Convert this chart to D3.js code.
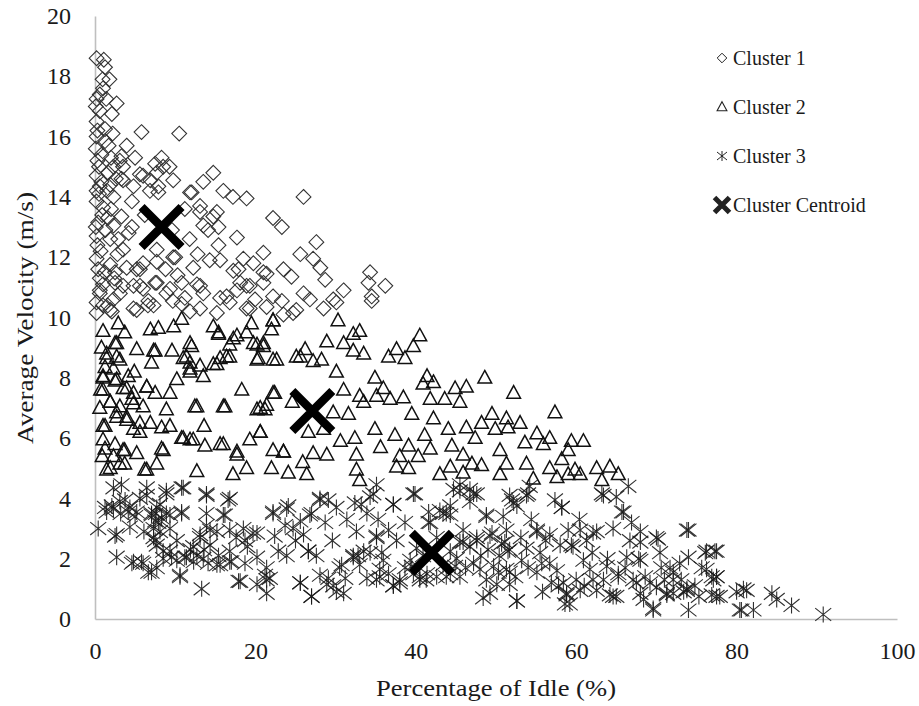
<!DOCTYPE html>
<html>
<head>
<meta charset="utf-8">
<script src="https://cdn.jsdelivr.net/npm/d3@7"></script>
<style>
  html, body { margin: 0; padding: 0; background: #fff; }
  text { font-family: "Liberation Serif", "Times New Roman", serif; fill: #1a1a1a; }
</style>
</head>
<body>
<div id="chart"></div>
<script>
// --- data: [percentage idle, average velocity] ---
var cluster1 = [
  [0.2,18.6],[1.1,18.55],[1.25,18.3],[0.95,17.9],[1.0,17.6],[0.2,17.25],[1.4,17.25],[2.7,17.1],
  [0.6,16.85],[2.1,16.75],[0.2,16.5],[1.25,16.25],[5.8,16.15],[10.5,16.1],[0.2,16.0],[1.25,15.85],
  [3.95,15.7],[0.8,15.4],[5.0,15.3],[8.3,15.3],[9.3,15.0],[7.5,15.1],[3.5,15.0],[1.65,14.8],
  [5.6,14.75],[0.2,14.7],[14.75,14.8],[13.5,14.5],[3.5,14.55],[6.9,14.55],[0.6,14.35],[11.85,14.15],
  [16.0,14.2],[17.2,14.0],[18.9,13.95],[26.0,14.0],[7.9,14.15],[2.3,14.0],[4.6,13.85],[0.2,13.85],
  [1.0,13.65],[11.2,13.6],[13.1,13.5],[15.2,13.5],[3.3,13.35],[22.2,13.3],[23.3,13.0],[13.5,13.05],
  [15.4,13.0],[0.4,13.15],[2.3,13.05],[4.6,13.0],[0.2,12.7],[1.9,12.6],[17.7,12.65],[15.4,12.4],
  [27.6,12.5],[25.6,12.1],[21.0,12.15],[3.5,12.25],[7.7,12.25],[10.0,12.0],[0.2,11.95],[1.9,11.75],
  [3.95,11.65],[6.0,11.8],[12.25,11.65],[15.6,11.9],[18.5,11.95],[17.9,11.6],[27.2,11.95],[28.1,11.65],
  [21.0,11.5],[23.5,11.6],[24.5,11.35],[28.7,11.25],[34.3,11.5],[34.1,11.15],[36.2,11.05],[34.5,10.7],
  [31.0,10.9],[29.7,10.6],[26.0,10.8],[26.8,10.6],[23.3,10.55],[19.3,11.05],[18.1,11.15],[16.4,10.7],
  [13.1,11.05],[9.35,10.95],[11.2,10.65],[7.5,11.15],[5.6,11.05],[3.5,11.05],[0.6,10.8],[2.3,10.6],
  [6.65,10.55],[19.95,10.6],[1.9,10.25],[5.2,10.25],[6.6,10.4],[9.7,10.55],[11.85,10.2],[15.2,10.15],
  [16.8,10.5],[19.3,10.3],[21.4,10.35],[25.1,10.25],[28.5,10.3],[30.1,10.5],[34.5,10.55],[0.2,10.15],
  [0.3,15.2],[0.5,14.1],[0.3,12.4],[0.6,11.3],[2.0,15.3],[1.6,13.3],[2.8,12.1],[1.2,11.5],[4.2,12.8],
  [6.2,13.4],[9.6,12.9],[11.8,12.6],[5.2,11.6],[8.8,11.6],[12.8,12.1],[14.3,11.9],[10.3,11.4],
  [0.1,17.0],[0.3,16.2],[0.1,15.6],[0.5,15.0],[0.8,14.5],[0.2,14.2],[1.5,14.2],[0.9,13.4],
  [0.1,13.0],[1.3,12.9],[0.7,12.2],[0.4,11.6],[1.0,11.1],[0.2,10.5],[1.6,10.4],[2.4,11.3],
  [2.9,12.6],[2.0,13.6],[2.6,14.6],[3.1,15.2],[1.7,15.7],[2.2,16.1],[0.6,17.4],[1.8,17.9],
  [3.3,15.35],[2.3,15.0],[1.9,14.4],[3.3,14.6],[4.8,14.35],[6.85,14.2],[6.0,14.7],[7.9,14.35],
  [8.5,15.0],[7.7,14.8],[9.75,14.55],[12.05,14.15],[13.1,13.7],[14.75,13.35],[14.1,12.9],
  [2.5,11.5],[5.6,11.6],[7.7,11.85],[9.75,12.0],[17.25,11.55],[19.75,11.8],[21.4,11.45],
  [0.6,10.9],[2.5,11.15],[3.1,10.8],[4.8,11.05],[6.0,10.95],[7.7,11.15],[8.9,10.8],[10.8,11.15],
  [12.7,11.1],[13.5,10.8],[15.6,10.65],[17.7,10.9],[18.9,11.05],[21.0,11.15],[22.2,10.7],
  [24.7,10.15],[1.0,10.4],[2.1,10.2],[4.8,10.3],[7.3,10.4],[10.8,10.45],[13.1,10.3],[18.9,10.3],
  [23.5,10.1]
];

var cluster2 = [
  [1.0,9.55],[2.9,9.8],[3.7,9.5],[6.9,9.6],[7.9,9.65],[9.8,9.7],[10.8,9.95],[14.75,9.7],
  [15.4,9.5],[17.7,9.4],[19.5,9.8],[22.2,9.9],[22.0,9.6],[30.3,9.9],[33.0,9.55],[32.2,9.45],
  [2.7,9.15],[5.2,8.95],[7.5,8.9],[11.85,9.15],[16.8,9.1],[20.2,9.1],[21.0,9.15],[26.2,8.95],
  [28.9,9.2],[31.0,9.15],[32.2,8.9],[33.5,8.8],[36.6,8.7],[37.6,8.95],[1.45,8.8],[3.1,8.6],
  [7.05,8.5],[11.0,8.65],[11.85,8.5],[15.6,8.65],[16.4,8.7],[20.2,8.6],[22.65,8.6],[25.6,8.7],
  [27.2,8.55],[28.25,8.6],[1.25,8.35],[2.3,8.3],[4.15,8.05],[11.85,8.2],[13.1,8.4],[13.5,8.05],
  [15.2,8.45],[30.1,8.2],[1.0,8.0],[2.5,7.9],[10.2,7.95],[34.9,8.0],[1.0,7.6],[3.95,7.65],
  [6.45,7.7],[7.5,7.5],[9.35,7.5],[22.4,7.5],[31.0,7.6],[33.0,7.4],[35.95,7.65],[35.1,7.4],
  [1.9,7.2],[4.6,7.3],[6.0,7.05],[8.9,6.95],[12.45,7.05],[16.2,7.05],[20.2,6.95],[21.2,6.95],
  [29.7,6.85],[33.5,7.2],[36.8,7.3],[2.7,6.85],[3.95,6.7],[6.9,6.5],[1.0,6.4],[8.3,6.35],
  [9.35,6.4],[20.6,6.2],[26.6,6.2],[28.5,6.3],[31.6,6.8],[32.4,6.0],[34.9,6.3],[37.4,6.1],
  [1.0,5.95],[3.5,5.6],[5.2,5.5],[8.3,5.65],[11.0,6.0],[11.85,5.95],[13.7,5.75],[16.0,5.8],
  [17.7,5.45],[19.3,5.95],[22.2,5.6],[23.5,5.55],[27.2,5.5],[28.9,5.45],[32.6,5.45],[2.3,5.4],
  [1.45,4.95],[3.1,5.15],[6.2,4.95],[7.7,5.15],[12.7,4.9],[17.2,4.8],[18.9,5.0],[22.0,5.0],
  [24.1,4.85],[26.4,4.8],[32.6,4.95],[33.0,4.6],[37.6,5.05],
  [40.5,9.4],[39.7,9.05],[38.65,8.65],[41.4,8.05],[42.2,7.85],[40.9,7.8],[44.9,7.65],[46.3,7.7],
  [48.6,8.0],[45.5,7.2],[41.8,7.3],[52.2,7.5],[38.45,7.35],[39.5,6.8],[42.2,6.65],[57.35,6.85],
  [49.5,6.8],[51.3,6.65],[48.2,6.5],[44.05,6.3],[46.3,6.35],[49.9,6.3],[51.5,6.35],[41.1,6.1],
  [55.1,6.15],[56.7,6.0],[53.6,5.85],[55.9,5.8],[59.4,5.9],[60.9,5.9],[39.1,5.75],[41.8,5.65],
  [44.5,5.75],[50.5,5.6],[59.0,5.6],[38.0,5.4],[40.3,5.4],[45.9,5.45],[47.0,5.15],[48.2,5.1],
  [51.3,5.15],[53.8,5.15],[56.7,5.0],[59.85,4.95],[62.55,5.0],[64.2,5.05],[65.25,4.8],[39.1,5.0],
  [43.0,4.8],[44.3,5.05],[45.9,4.85],[50.5,4.8],[54.65,4.65],[57.6,4.7],[59.0,4.8],[60.5,4.8],
  [63.2,4.6],[0.8,9.0],[0.6,7.0],[0.9,5.4],[4.9,8.2],[5.6,6.2],[9.6,8.9],[13.6,6.4],[18.3,7.6],
  [24.6,7.2],[25.9,5.2],[30.6,5.9],[35.6,5.7],[43.6,7.3],[47.4,6.0],[53.0,6.5],[58.2,5.3],
  [2.5,9.15],[7.3,8.9],[1.45,8.65],[2.7,8.7],[1.0,8.05],[2.7,7.95],[0.7,7.6],[3.5,7.65],
  [4.8,7.5],[6.45,7.7],[1.9,7.2],[3.1,7.05],[4.8,7.15],[2.7,6.7],[3.95,6.6],[5.6,6.5],
  [4.8,6.3],[1.25,6.4],[1.25,5.65],[2.5,5.8],[3.7,5.6],[8.5,5.6],[1.9,5.0],[3.7,5.15],
  [6.45,4.95],[23.5,5.55],[10.8,6.0],[12.25,5.95],[15.6,5.8],[17.7,5.55],[20.6,6.2],
  [12.7,7.05],[16.0,7.05],[20.6,7.0],[21.4,7.1],[22.2,7.5],[12.05,9.05],[11.4,8.7],[11.85,8.3],
  [14.75,8.45],[15.4,9.45],[17.25,9.3],[18.9,9.5],[19.75,9.15],[21.0,9.05],[22.2,8.6],
  [20.35,8.65],[16.8,8.7],[22.2,9.9],[25.1,8.7]
];

var cluster3 = [
  [0.4,3.0],[2.3,4.35],[1.25,3.7],[2.1,3.75],[3.75,3.95],[4.35,3.7],[2.7,2.8],[2.7,2.05],
  [4.6,1.85],[5.8,1.9],[6.65,1.55],[7.7,1.7],[6.45,4.35],[5.6,4.0],[7.05,3.45],[7.7,3.7],
  [8.3,3.35],[7.3,3.0],[7.5,2.6],[8.9,4.25],[11.0,4.35],[10.8,3.55],[9.35,3.45],[9.35,3.0],
  [8.5,2.25],[9.55,2.05],[10.6,1.45],[11.4,2.05],[12.7,2.1],[13.9,4.1],[16.8,4.0],[16.0,3.45],
  [13.9,3.1],[15.2,2.9],[13.1,2.8],[14.35,2.45],[14.1,1.85],[15.6,1.8],[16.8,1.9],[13.3,1.0],
  [18.5,3.0],[19.7,2.85],[16.8,2.25],[18.7,1.85],[18.1,1.25],[20.2,2.05],[21.4,1.7],[21.2,1.45],
  [21.8,1.35],[21.4,0.85],[20.2,1.15],[22.4,2.75],[22.2,3.55],[24.1,3.75],[23.7,3.1],[24.7,3.0],
  [22.85,2.25],[23.9,2.1],[26.6,2.25],[26.0,2.8],[26.8,3.45],[28.05,4.0],[29.1,3.95],[30.1,3.7],
  [28.7,3.2],[25.6,1.2],[27.0,0.75],[28.05,1.45],[28.9,1.15],[30.1,0.9],[30.75,1.8],[31.4,3.3],
  [32.4,3.85],[32.6,2.9],[32.2,2.1],[33.5,2.25],[33.9,1.35],[31.2,1.35],[33.0,1.8],
  [7.9,3.2],[8.1,2.9],[7.6,3.5],[11.9,2.3],[12.3,1.9],[13.6,2.3],[15.4,2.1],[10.2,2.6],
  [3.2,3.5],[5.0,3.4],[6.1,2.9],[17.6,2.7],[19.0,2.4],[25.0,2.6],[27.6,2.1],[29.6,2.6],
  [35.1,4.45],[34.3,4.05],[37.2,3.8],[39.9,4.15],[35.3,3.3],[35.1,2.75],[36.6,2.95],[38.65,3.2],
  [41.6,3.55],[43.0,3.6],[44.3,3.45],[41.6,3.2],[35.75,2.2],[35.5,1.65],[36.6,1.5],[35.1,1.3],
  [38.0,1.3],[38.65,1.7],[39.5,1.75],[40.5,1.4],[44.3,1.5],[45.5,1.4],[44.7,4.3],[45.5,4.45],
  [46.75,4.3],[47.6,4.15],[46.75,3.9],[48.8,3.4],[45.9,2.95],[45.5,2.55],[46.75,2.4],[47.6,2.6],
  [49.5,2.85],[49.0,2.3],[47.2,1.85],[49.7,1.75],[51.3,1.65],[48.8,1.3],[50.1,1.15],[48.4,0.7],
  [52.6,0.6],[51.7,1.15],[51.1,2.55],[51.7,2.3],[51.3,2.95],[52.2,3.85],[51.7,4.1],[53.8,4.1],
  [54.2,4.4],[55.1,2.95],[53.8,2.35],[53.2,1.95],[55.5,2.2],[55.1,1.55],[56.7,1.85],[57.35,3.95],
  [58.2,3.7],[59.0,2.95],[59.6,2.4],[58.0,2.45],[56.9,1.2],[58.4,1.2],[58.8,0.8],[59.2,0.5],
  [60.0,1.3],[60.9,1.95],[61.3,2.6],[62.55,2.9],[63.4,4.1],[65.0,4.05],[66.5,4.4],[65.9,3.55],
  [66.7,2.6],[66.3,2.05],[65.25,1.5],[63.4,1.3],[62.55,0.95],[65.0,0.75],[67.1,1.3],[61.7,1.65],
  [40.1,2.35],[39.3,1.95],[40.9,2.1],[34.3,2.2],
  [37.6,2.6],[42.6,2.7],[43.4,1.8],[46.2,1.7],[50.4,2.1],[52.4,1.4],[54.4,3.3],[56.2,2.6],
  [57.6,1.6],[60.4,3.3],[62.0,2.2],[63.9,2.0],[64.6,3.0],[61.0,1.1],[64.2,0.8],[67.8,2.0],
  [37.2,1.1],[41.3,1.3],[42.6,1.4],[45.1,2.0],[48.1,2.1],[50.9,3.4],[53.1,2.7],[55.8,0.9],
  [68.0,2.55],[70.2,2.65],[74.0,2.95],[70.45,2.2],[76.1,2.2],[77.3,2.25],[74.0,2.05],[72.9,1.85],
  [71.7,1.7],[72.1,1.55],[75.65,1.7],[76.9,1.4],[77.1,1.3],[68.0,1.95],[68.6,1.4],[70.0,1.05],
  [71.3,0.85],[73.4,0.9],[73.8,1.0],[75.3,0.75],[76.9,0.8],[77.5,0.75],[69.6,0.35],[74.0,0.3],
  [68.4,0.65],[80.0,0.9],[81.25,0.95],[80.4,0.3],[82.1,0.3],[84.4,0.85],[85.0,0.65],[86.85,0.45],
  [90.8,0.15],[77.5,1.4],[72.1,0.85],[69.2,1.2],[71.0,1.3],[73.1,1.3],[74.8,1.1],[70.6,1.7],
  [1.45,3.55],[2.3,3.65],[3.3,4.45],[3.1,3.9],[4.15,3.55],[4.35,3.05],[2.5,2.75],[4.8,1.9],
  [6.0,1.85],[7.05,1.55],[5.2,3.55],[6.45,4.1],[7.05,3.5],[7.5,3.25],[8.1,3.8],[8.9,4.15],
  [8.9,3.5],[7.3,2.7],[7.7,2.45],[9.35,2.25],[8.5,2.0],[10.8,3.5],[10.8,4.35],[10.6,1.4],
  [10.2,1.95],[11.2,2.05],[12.25,2.4],[13.1,2.7],[13.5,2.0],[13.9,4.15],[13.9,3.5],[14.35,2.95],
  [15.2,1.8],[16.6,3.95],[16.2,3.45],[16.8,2.95],[17.0,1.9],[17.9,1.25],[18.7,2.6],[20.2,2.85],
  [21.4,1.3],[22.2,3.5],[23.9,3.65],[25.6,3.25],[27.0,3.5],[26.6,2.25],[25.6,1.2],[27.0,0.75],
  [28.05,3.95],[29.1,1.35],[29.7,1.1],[31.0,0.85],[30.5,1.7],[32.2,2.05],[32.8,2.1],[33.2,3.8],
  [33.9,3.5],[34.7,4.15],[35.1,2.7],[35.95,1.95],[35.5,1.4],[37.2,3.8],[37.2,1.1],[38.0,1.2],
  [39.7,4.15],[39.7,1.5],[40.5,1.3],[41.4,1.5],[41.8,3.2],[43.4,3.5],[44.3,3.75],[43.8,1.4],
  [44.9,1.75],[45.5,4.25],[47.2,4.15],[43.8,3.5],[48.8,3.45],[45.9,2.55],[44.3,2.25],[47.6,2.7],
  [49.25,2.75],[50.7,2.5],[51.5,2.25],[52.0,3.95],[52.6,3.75],[54.0,4.15],[58.2,3.7],[55.1,2.9],
  [56.7,2.8],[59.4,2.45],[60.5,2.95],[62.1,2.85],[63.2,4.15],[65.7,3.55],[66.9,3.2],[68.0,2.9],
  [70.0,2.7],[73.8,2.95],[48.0,1.65],[49.25,0.85],[50.3,1.55],[51.7,1.55],[52.6,0.6],[54.0,1.7],
  [55.7,1.85],[57.8,1.1],[58.8,0.85],[58.6,0.5],[60.5,0.95],[62.1,1.3],[63.8,1.75],[64.6,0.75],
  [65.25,1.4],[66.1,1.7],[67.5,1.2],[68.0,0.85],[69.6,0.3],[71.3,0.8],[72.1,1.3],[73.8,0.95],
  [76.25,2.25],[77.5,2.25],[76.25,1.65],[77.5,1.4],[77.9,0.75],[80.85,1.0],[80.6,0.3]
];

var centroids = [[8.3,13.0],[27.1,6.9],[42.0,2.2]];

var xTicks = [0, 20, 40, 60, 80, 100];
var yTicks = [0, 2, 4, 6, 8, 10, 12, 14, 16, 18, 20];
var legendLabels = ["Cluster 1", "Cluster 2", "Cluster 3", "Cluster Centroid"];

var xTitle = "Percentage of Idle (%)";
var yTitle = "Average Velocity (m/s)";

// --- layout ---
var width = 919, height = 706;
var margin = {left: 95, right: 22, top: 16, bottom: 87};

var svg = d3.select("#chart").append("svg")
  .attr("width", width)
  .attr("height", height);

var x = d3.scaleLinear().domain([0, 100]).range([margin.left, width - margin.right]);
var y = d3.scaleLinear().domain([0, 20]).range([height - margin.bottom, margin.top]);

// axes
var axisColor = "#bfbfbf";

var xAxis = svg.append("g")
  .attr("transform", "translate(0," + y(0) + ")")
  .call(d3.axisBottom(x).tickValues(xTicks).tickSize(0).tickSizeOuter(0).tickPadding(23));

var yAxis = svg.append("g")
  .attr("transform", "translate(" + x(0) + ",0)")
  .call(d3.axisLeft(y).tickValues(yTicks).tickSize(0).tickSizeOuter(0).tickPadding(24));

[xAxis, yAxis].forEach(function(g) {
  g.attr("font-family", null);
  g.select(".domain").attr("stroke", axisColor).attr("stroke-width", 1.6);
  g.selectAll("text")
    .style("font-family", "'Liberation Serif', 'Times New Roman', serif")
    .attr("font-size", 24)
    .attr("fill", "#1a1a1a");
});

// axis titles
svg.append("text")
  .attr("x", 496)
  .attr("y", 696)
  .attr("text-anchor", "middle")
  .attr("font-size", 23)
  .attr("textLength", 240)
  .attr("lengthAdjust", "spacingAndGlyphs")
  .text(xTitle);

svg.append("text")
  .attr("transform", "translate(33,318) rotate(-90)")
  .attr("text-anchor", "middle")
  .attr("font-size", 23)
  .attr("textLength", 252)
  .attr("lengthAdjust", "spacingAndGlyphs")
  .text(yTitle);

// --- marker shapes ---
function diamond(s) {
  return "M0," + (-s) + "L" + s + ",0L0," + s + "L" + (-s) + ",0Z";
}
function triangle(s) {
  return "M0," + (-s * 1.05) + "L" + (s * 0.98) + "," + (s * 0.75) + "L" + (-s * 0.98) + "," + (s * 0.75) + "Z";
}
function asterisk(s) {
  var dx = s, dy = s * 0.8;
  return "M0," + (-s) + "L0," + s +
    "M" + (-dx) + "," + (-dy) + "L" + dx + "," + dy +
    "M" + (-dx) + "," + dy + "L" + dx + "," + (-dy);
}
function cross(s) {
  return "M" + (-s) + "," + (-s) + "L" + s + "," + s + "M" + (-s) + "," + s + "L" + s + "," + (-s);
}

var plot = svg.append("g").attr("class", "points");

plot.append("g").selectAll("path")
  .data(cluster1)
  .enter().append("path")
    .attr("transform", function(d) { return "translate(" + x(d[0]) + "," + y(d[1]) + ")"; })
    .attr("d", diamond(7.4))
    .attr("fill", "none")
    .attr("stroke", "#333")
    .attr("stroke-width", 1.1);

plot.append("g").selectAll("path")
  .data(cluster2)
  .enter().append("path")
    .attr("transform", function(d) { return "translate(" + x(d[0]) + "," + y(d[1]) + ")"; })
    .attr("d", triangle(7))
    .attr("fill", "none")
    .attr("stroke", "#111")
    .attr("stroke-width", 1.5);

plot.append("g").selectAll("path")
  .data(cluster3)
  .enter().append("path")
    .attr("transform", function(d) { return "translate(" + x(d[0]) + "," + y(d[1]) + ")"; })
    .attr("d", asterisk(8))
    .attr("fill", "none")
    .attr("stroke", "#1a1a1a")
    .attr("stroke-opacity", 0.9)
    .attr("stroke-width", 1.1);

plot.append("g").selectAll("path")
  .data(centroids)
  .enter().append("path")
    .attr("transform", function(d) { return "translate(" + x(d[0]) + "," + y(d[1]) + ")"; })
    .attr("d", cross(20))
    .attr("fill", "none")
    .attr("stroke", "#000")
    .attr("stroke-width", 8.5);

// --- legend ---
var legendShapes = [
  {d: diamond(4.8), w: 1},
  {d: triangle(5), w: 1.1},
  {d: asterisk(5), w: 1},
  {d: cross(7.5), w: 5}
];

var legend = svg.append("g").attr("class", "legend");
var rows = legend.selectAll("g")
  .data(legendLabels)
  .enter().append("g")
    .attr("transform", function(d, i) { return "translate(722," + (58 + i * 49) + ")"; });

rows.append("path")
  .attr("d", function(d, i) { return legendShapes[i].d; })
  .attr("fill", "none")
  .attr("stroke", "#222")
  .attr("stroke-width", function(d, i) { return legendShapes[i].w; });

rows.append("text")
  .attr("x", 11)
  .attr("dy", "0.35em")
  .attr("font-size", 20)
  .text(function(d) { return d; });
</script>
</body>
</html>
